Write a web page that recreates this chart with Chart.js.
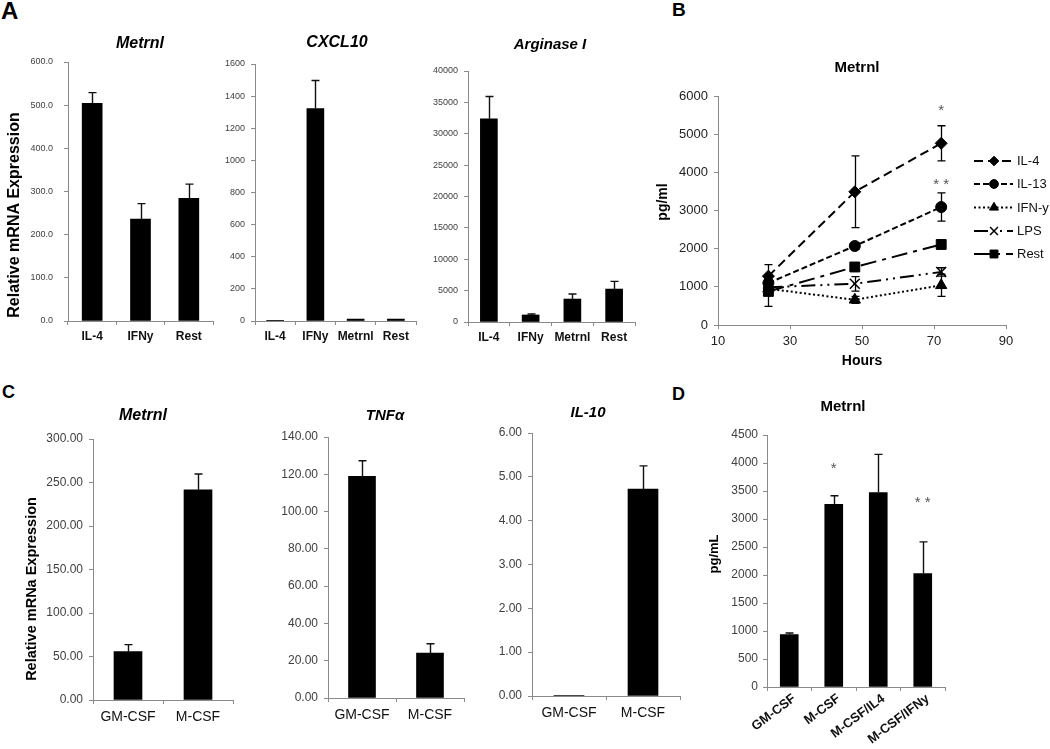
<!DOCTYPE html>
<html><head><meta charset="utf-8">
<script src="https://cdn.jsdelivr.net/npm/chart.js@4.4.1/dist/chart.umd.min.js"></script>
<style>
html,body{margin:0;padding:0;background:#fff;}
body{width:1050px;height:749px;position:relative;overflow:hidden;font-family:"Liberation Sans",Arial,sans-serif;}
canvas{position:absolute;}
.lt{position:absolute;font-weight:bold;color:#000;line-height:1;font-family:"Liberation Sans",Arial,sans-serif;}
</style></head><body>
<div class="lt" style="left:1px;top:-1px;font-size:24px">A</div>
<div class="lt" style="left:672px;top:0px;font-size:19px">B</div>
<div class="lt" style="left:2px;top:383px;font-size:18px">C</div>
<div class="lt" style="left:672px;top:385px;font-size:18px">D</div>
<script>
// ---------------- DATA ----------------
const catsA1 = ['IL-4', 'IFNy', 'Rest'];
const valsA1 = [504, 236, 284];
const errsA1 = [25, 36, 33];
const ticksA1 = [0, 100, 200, 300, 400, 500, 600];

const catsA2 = ['IL-4', 'IFNy', 'Metrnl', 'Rest'];
const valsA2 = [1, 1322, 12, 12];
const errsA2 = [0, 175, 0, 0];
const ticksA2 = [0, 200, 400, 600, 800, 1000, 1200, 1400, 1600];

const catsA3 = ['IL-4', 'IFNy', 'Metrnl', 'Rest'];
const valsA3 = [32380, 1120, 3660, 5250];
const errsA3 = [3550, 150, 800, 1220];
const ticksA3 = [0, 5000, 10000, 15000, 20000, 25000, 30000, 35000, 40000];

const hoursB = [24, 48, 72];
const namesB = ['IL-4', 'IL-13', 'IFN-y', 'LPS', 'Rest'];
const il4B = [1280, 3490, 4760];
const il4ErrB = [300, 940, 460];
const il13B = [1100, 2070, 3090];
const il13ErrB = [120, 90, 370];
const ifnB = [950, 660, 1040];
const ifnErrB = [80, 90, 290];
const lpsB = [990, 1080, 1390];
const lpsErrB = [60, 190, 110];
const restB = [880, 1520, 2110];
const restErrB = [390, 90, 70];
const ticksBx = [10, 30, 50, 70, 90];
const ticksBy = [0, 1000, 2000, 3000, 4000, 5000, 6000];
const starsB = [{x: 72, y: 5700, t: '*'}, {x: 72, y: 3760, t: '* *'}];

const catsC = ['GM-CSF', 'M-CSF'];
const valsC1 = [55.6, 241.7];
const errsC1 = [8.1, 18];
const ticksC1 = [0, 50, 100, 150, 200, 250, 300];
const valsC2 = [118.9, 24.1];
const errsC2 = [8.4, 5];
const ticksC2 = [0, 20, 40, 60, 80, 100, 120, 140];
const valsC3 = [0.01, 4.72];
const errsC3 = [0, 0.53];
const ticksC3 = [0, 1, 2, 3, 4, 5, 6];

const catsD = ['GM-CSF', 'M-CSF', 'M-CSF/IL4', 'M-CSF/IFNy'];
const valsD = [936, 3260, 3474, 2026];
const errsD = [29, 155, 680, 566];
const ticksD = [0, 500, 1000, 1500, 2000, 2500, 3000, 3500, 4000, 4500];
const starsD = [{x: 1, y: 3950, t: '*'}, {x: 3, y: 3350, t: '* *'}];

// ---------------- LAYOUT / STYLE ----------------
const FONT = '"Liberation Sans", Arial, Helvetica, sans-serif';
const AXIS = '#8a8a8a', TICK = '#404040';
const LAYOUT = {
  A1: {L: 68, R: 213, T: 62, B: 321, yw: 68, tH: 30, xh: 30, pr: 4},
  A2: {L: 255, R: 416, T: 64, B: 321, yw: 45, tH: 30, xh: 30, pr: 4},
  A3: {L: 468, R: 635, T: 71, B: 322, yw: 45, tH: 35, xh: 30, pr: 6},
  B:  {L: 718, R: 1006, T: 96, B: 325, yw: 68, tH: 45, xh: 50, pr: 44},
  C1: {L: 93, R: 233, T: 439, B: 700, yw: 93, tH: 35, xh: 30, pr: 4},
  C2: {L: 328, R: 464, T: 437, B: 698, yw: 56, tH: 35, xh: 30, pr: 4},
  C3: {L: 532, R: 680, T: 433, B: 696, yw: 50, tH: 35, xh: 30, pr: 4},
  D:  {L: 767, R: 945, T: 435, B: 687, yw: 62, tH: 38, xh: 62, pr: 8}
};
const styleB = [
  {borderDash: [9, 5], pointStyle: 'rectRot', pointRadius: 6, pointBorderWidth: 1},
  {borderDash: [6, 3], pointStyle: 'circle', pointRadius: 5.5, pointBorderWidth: 1},
  {borderDash: [2, 2.5], pointStyle: 'triangle', pointRadius: 6.5, pointBorderWidth: 1},
  {borderDash: [14, 5, 2, 5, 2, 5], pointStyle: 'crossRot', pointRadius: 7, pointBorderWidth: 1.5},
  {borderDash: [16, 6, 4, 6], pointStyle: 'rect', pointRadius: 7, pointBorderWidth: 1}
];

function mkCanvas(g) {
  const c = document.createElement('canvas');
  c.width = g.R - g.L + g.yw + g.pr;
  c.height = g.B - g.T + g.tH + g.xh;
  c.style.left = (g.L - g.yw) + 'px';
  c.style.top = (g.T - g.tH) + 'px';
  document.body.appendChild(c);
  return c;
}

function textPlugin(g, items) {
  const ox = g.L - g.yw, oy = g.T - g.tH;
  return {id: 'pageText', afterDraw(chart) {
    const ctx = chart.ctx;
    items.forEach(it => {
      ctx.save();
      ctx.font = it.font; ctx.fillStyle = it.color || '#000';
      ctx.textAlign = 'center'; ctx.textBaseline = 'middle';
      ctx.translate(it.x - ox, it.y - oy);
      if (it.rot) ctx.rotate(it.rot * Math.PI / 180);
      ctx.fillText(it.t, 0, 0);
      ctx.restore();
    });
  }};
}

function errPlugin(o) {
  return {id: 'errBars', afterDatasetsDraw(chart) {
    const ctx = chart.ctx;
    chart.data.datasets.forEach((ds, di) => {
      if (!ds.errors) return;
      const meta = chart.getDatasetMeta(di);
      const ys = chart.scales[meta.yAxisID];
      ctx.save();
      ctx.strokeStyle = o.color || '#111'; ctx.lineWidth = o.lw || 1.3; ctx.setLineDash([]);
      meta.data.forEach((el, i) => {
        const e = ds.errors[i]; if (!e) return;
        const v = meta.controller.getParsed(i).y;
        const x = Math.round(el.x) + 0.5;
        const yt = ys.getPixelForValue(v + e);
        const yb = o.both ? ys.getPixelForValue(v - e) : ys.getPixelForValue(v);
        ctx.beginPath();
        ctx.moveTo(x, yb); ctx.lineTo(x, yt);
        ctx.moveTo(x - o.cap, yt); ctx.lineTo(x + o.cap, yt);
        if (o.both) { ctx.moveTo(x - o.cap, yb); ctx.lineTo(x + o.cap, yb); }
        ctx.stroke();
      });
      ctx.restore();
    });
  }};
}

function starPlugin(list, font) {
  return {id: 'stars', afterDatasetsDraw(chart) {
    const ctx = chart.ctx;
    ctx.save(); ctx.fillStyle = '#555'; ctx.font = font;
    ctx.textAlign = 'center'; ctx.textBaseline = 'middle';
    list.forEach(s => {
      ctx.fillText(s.t, chart.scales.x.getPixelForValue(s.x), chart.scales.y.getPixelForValue(s.y) + 3);
    });
    ctx.restore();
  }};
}

function drawMarker(ctx, style, r, bw, x, y) {
  if (Chart.helpers && Chart.helpers.drawPoint) {
    Chart.helpers.drawPoint(ctx, {pointStyle: style, radius: r, borderWidth: bw, rotation: 0}, x, y);
    return;
  }
  ctx.beginPath(); ctx.arc(x, y, r, 0, Math.PI * 2); ctx.fill();
}

function legendPlugin(g, rows, x0, x1, xm, xt) {
  const ox = g.L - g.yw, oy = g.T - g.tH;
  return {id: 'legendB', afterDraw(chart) {
    const ctx = chart.ctx;
    chart.data.datasets.forEach((ds, i) => {
      const y = rows[i] - oy;
      ctx.save();
      ctx.strokeStyle = '#000'; ctx.fillStyle = '#000'; ctx.lineWidth = 2;
      ctx.setLineDash(ds.borderDash || []);
      ctx.beginPath(); ctx.moveTo(x0 - ox, y); ctx.lineTo(x1 - ox, y); ctx.stroke();
      ctx.setLineDash([]);
      ctx.lineWidth = ds.pointBorderWidth || 1;
      drawMarker(ctx, ds.pointStyle, ds.pointRadius * 0.8, ds.pointBorderWidth || 1, xm - ox, y);
      ctx.font = '13px ' + FONT; ctx.textAlign = 'left'; ctx.textBaseline = 'middle';
      ctx.fillStyle = '#111';
      ctx.fillText(ds.label, xt - ox, y + 0.5);
      ctx.restore();
    });
  }};
}

function baseOpts(g) {
  return {
    responsive: false, animation: false, devicePixelRatio: 1, events: [],
    layout: {padding: {left: 0, top: g.tH, right: g.pr, bottom: 0}},
    plugins: {legend: {display: false}, tooltip: {enabled: false}, title: {display: false}}
  };
}

function yScale(g, yTicks, fmt, st) {
  return {
    min: yTicks[0], max: yTicks[yTicks.length - 1],
    grid: {display: true, drawOnChartArea: false, drawTicks: true, tickLength: 4, color: AXIS, lineWidth: 1},
    border: {display: true, color: AXIS, width: 1},
    afterBuildTicks: s => { s.ticks = yTicks.map(v => ({value: v})); },
    ticks: {padding: st.yPad, color: st.yColor || TICK, font: {family: FONT, size: st.yFont}, callback: v => fmt(v)},
    afterFit: s => { s.width = g.yw; }
  };
}

function makeBar(key, cats, vals, errs, yTicks, fmt, st, texts, stars) {
  const g = LAYOUT[key];
  const c = mkCanvas(g);
  const plugins = [errPlugin({cap: st.cap, both: false, lw: 1.4}), textPlugin(g, texts)];
  if (stars) plugins.push(starPlugin(stars, '15px ' + FONT));
  const opts = baseOpts(g);
  opts.scales = {
    x: {
      offset: true,
      grid: {display: true, offset: true, drawOnChartArea: false, drawTicks: true, tickLength: 4, color: AXIS, lineWidth: 1},
      border: {display: true, color: AXIS, width: 1},
      ticks: {autoSkip: false, maxRotation: st.xRot || 0, minRotation: st.xRot || 0, padding: st.xPad, color: '#111',
              labelOffset: st.xOff || 0,
              font: {family: FONT, size: st.xFont, weight: st.xBold ? 'bold' : 'normal'}},
      afterFit: s => { s.height = g.xh; }
    },
    y: yScale(g, yTicks, fmt, st)
  };
  return new Chart(c, {
    type: 'bar',
    data: {labels: cats, datasets: [{data: vals, errors: errs, backgroundColor: '#000', borderWidth: 0, barThickness: st.barW}]},
    options: opts,
    plugins: plugins
  });
}

const f1 = v => v.toFixed(1), f2 = v => v.toFixed(2), f0 = v => String(v);
const TIT = s => 'italic bold ' + s + 'px ' + FONT;
const BLD = s => 'bold ' + s + 'px ' + FONT;

// ---------- Panel A ----------
const stA = {yFont: 9, yPad: 11, xFont: 12, xBold: true, xPad: 4, cap: 4};
makeBar('A1', catsA1, valsA1, errsA1, ticksA1, f1, Object.assign({}, stA, {barW: 20}),
  [{t: 'Metrnl', x: 140, y: 44, font: TIT(16)},
   {t: 'Relative mRNA Expression', x: 15, y: 215, font: BLD(16), rot: -90}]);
makeBar('A2', catsA2, valsA2, errsA2, ticksA2, f0, Object.assign({}, stA, {barW: 17, yPad: 6}),
  [{t: 'CXCL10', x: 337, y: 43, font: TIT(16)}]);
makeBar('A3', catsA3, valsA3, errsA3, ticksA3, f0, Object.assign({}, stA, {barW: 17, yPad: 6}),
  [{t: 'Arginase I', x: 550, y: 45, font: TIT(15)}]);

// ---------- Panel B ----------
(function () {
  const g = LAYOUT.B;
  const c = mkCanvas(g);
  const seriesB = [il4B, il13B, ifnB, lpsB, restB];
  const errsB = [il4ErrB, il13ErrB, ifnErrB, lpsErrB, restErrB];
  const datasets = namesB.map((n, k) => Object.assign({
    label: n,
    data: hoursB.map((h, i) => ({x: h, y: seriesB[k][i]})),
    errors: errsB[k],
    borderColor: '#000', backgroundColor: '#000', pointBackgroundColor: '#000', pointBorderColor: '#000',
    borderWidth: 2, fill: false, tension: 0
  }, styleB[k]));
  const opts = baseOpts(g);
  const st = {yFont: 13, yPad: 6, yColor: '#222'};
  opts.scales = {
    x: {
      type: 'linear', min: ticksBx[0], max: ticksBx[ticksBx.length - 1],
      grid: {display: true, drawOnChartArea: false, drawTicks: true, tickLength: 4, color: AXIS, lineWidth: 1},
      border: {display: true, color: AXIS, width: 1},
      afterBuildTicks: s => { s.ticks = ticksBx.map(v => ({value: v})); },
      ticks: {padding: 5, color: '#222', font: {family: FONT, size: 13}, callback: v => String(v), maxRotation: 0},
      afterFit: s => { s.height = g.xh; }
    },
    y: yScale(g, ticksBy, f0, st)
  };
  new Chart(c, {
    type: 'line',
    data: {datasets: datasets},
    options: opts,
    plugins: [
      errPlugin({cap: 4, both: true, lw: 1.3, color: '#000'}),
      starPlugin(starsB, '15px ' + FONT),
      legendPlugin(g, [161, 184, 207.5, 231, 254], 974, 1013, 994, 1017),
      textPlugin(g, [
        {t: 'Metrnl', x: 857, y: 68, font: BLD(15)},
        {t: 'pg/ml', x: 663, y: 202, font: BLD(14), rot: -90},
        {t: 'Hours', x: 862, y: 361, font: BLD(14)}
      ])
    ]
  });
})();

// ---------- Panel C ----------
const stC = {yFont: 12, yPad: 6, xFont: 14, xBold: false, xPad: 5, cap: 4};
makeBar('C1', catsC, valsC1, errsC1, ticksC1, f2, Object.assign({}, stC, {barW: 28}),
  [{t: 'Metrnl', x: 143, y: 416, font: TIT(16)},
   {t: 'Relative mRNa Expression', x: 32, y: 589, font: BLD(14.5), rot: -90}]);
makeBar('C2', catsC, valsC2, errsC2, ticksC2, f2, Object.assign({}, stC, {barW: 27}),
  [{t: 'TNFα', x: 385, y: 416, font: TIT(15)}]);
makeBar('C3', catsC, valsC3, errsC3, ticksC3, f2, Object.assign({}, stC, {barW: 30}),
  [{t: 'IL-10', x: 588, y: 413, font: TIT(15)}]);

// ---------- Panel D ----------
makeBar('D', catsD, valsD, errsD, ticksD, f0,
  {yFont: 12, yPad: 5, xFont: 13, xBold: true, xPad: 0, xRot: 37, xOff: 5, cap: 4, barW: 18},
  [{t: 'Metrnl', x: 843, y: 407, font: BLD(15)},
   {t: 'pg/mL', x: 714, y: 554, font: BLD(13), rot: -90}],
  starsD);
</script>
</body></html>
